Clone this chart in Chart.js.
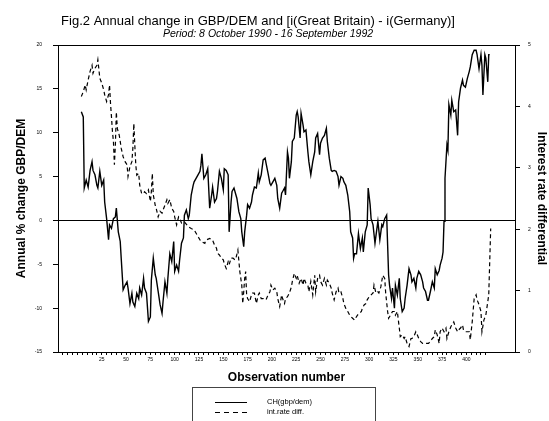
<!DOCTYPE html>
<html>
<head>
<meta charset="utf-8">
<script src="https://cdn.jsdelivr.net/npm/chart.js@4/dist/chart.umd.min.js"></script>
<style>
  html, body { margin: 0; padding: 0; background: #fff; }
  #chart { display: block; }
</style>
</head>
<body>
<canvas id="chart" width="549" height="421"></canvas>
<script>
// titles
const chartTitle = 'Fig.2 Annual change in GBP/DEM and [i(Great Britain) - i(Germany)]';
const chartSubtitle = 'Period: 8 October 1990 - 16 September 1992';

// CH(gbp/dem): observation number / annual % change
const obsCh = [4, 6, 7, 9, 11, 13, 15, 16, 18, 20,
    21, 23, 25, 27, 28, 30, 32, 33, 35, 37,
    39, 40, 42, 44, 45, 47, 49, 51, 52, 54,
    56, 57, 59, 61, 63, 64, 66, 68, 69, 71,
    73, 75, 76, 78, 80, 81, 83, 85, 87, 88,
    90, 92, 93, 95, 97, 99, 100, 102, 104, 105,
    107, 109, 110, 112, 114, 115, 117, 119, 120, 122,
    124, 126, 127, 128, 130, 132, 134, 136, 138, 139,
    141, 143, 144, 146, 148, 150, 151, 153, 155, 156,
    158, 159, 161, 163, 164, 166, 168, 169, 171, 172,
    174, 175, 177, 179, 180, 182, 184, 186, 187, 189,
    191, 193, 194, 196, 198, 199, 201, 203, 205, 206,
    208, 210, 211, 213, 214, 216, 217, 218, 220, 221,
    223, 225, 226, 227, 229, 230, 232, 233, 235, 237,
    238, 240, 242, 244, 245, 247, 249, 250, 252, 254,
    256, 257, 259, 261, 262, 264, 266, 268, 269, 271,
    273, 274, 276, 278, 280, 281, 283, 284, 285, 287,
    289, 291, 293, 294, 296, 298, 299, 301, 302, 304,
    306, 308, 309, 311, 313, 314, 316, 318, 319, 320,
    321, 323, 324, 326, 327, 329, 331, 332, 334, 336,
    337, 339, 341, 343, 344, 346, 348, 349, 351, 353,
    355, 356, 358, 360, 361, 363, 365, 367, 368, 370,
    372, 373, 375, 376, 377, 378, 380, 381, 382, 384,
    385, 387, 389, 391, 392, 394, 396, 397, 399, 401,
    403, 404, 406, 408, 410, 411, 413, 415, 416, 417,
    419, 420, 422, 423, 424];
const valCh = [12.4, 11.8, 3.7, 4.6, 3.8, 5.7, 6.7, 5.7, 5.2, 4.0,
    3.7, 5.6, 4.0, 4.6, 2.1, 0.2, -2.2, -0.5, -0.9, 0.2,
    0.4, 1.4, -1.3, -2.4, -4.3, -7.9, -7.4, -7.0, -7.7, -9.5,
    -8.3, -9.3, -9.8, -8.3, -8.9, -7.7, -8.5, -6.6, -7.7, -8.3,
    -11.5, -11.0, -6.8, -4.3, -6.2, -6.6, -8.1, -9.6, -10.6, -9.3,
    -7.0, -8.3, -6.6, -3.8, -4.7, -2.4, -5.8, -5.1, -5.8, -4.6,
    -2.6, -2.0, 0.6, 1.2, 0.2, 0.6, 2.9, 4.0, 4.4, 4.8,
    5.2, 5.6, 6.3, 7.6, 4.8, 5.2, 5.9, 1.4, 2.9, 3.8,
    2.1, 2.5, 3.3, 5.6, 4.8, 3.5, 5.9, 5.7, 5.2, -1.3,
    2.1, 3.3, 3.7, 2.9, 2.5, 1.0, 0.2, -1.3, -3.0, -1.3,
    0.6, 1.8, 1.4, 2.1, 2.9, 3.8, 3.7, 5.4, 4.4, 5.2,
    6.9, 7.1, 6.5, 5.4, 4.2, 4.0, 4.4, 4.8, 4.0, 2.5,
    1.4, 3.1, 3.3, 3.7, 2.9, 7.8, 7.1, 4.8, 6.7, 9.0,
    9.4, 12.0, 12.4, 11.8, 9.4, 12.2, 10.9, 10.1, 10.3, 7.8,
    6.7, 5.2, 6.7, 7.8, 9.4, 9.9, 7.5, 8.8, 9.4, 9.7,
    10.5, 9.0, 7.1, 5.7, 5.6, 5.7, 5.6, 5.0, 4.0, 5.0,
    4.8, 4.4, 4.0, 2.9, 1.0, -1.3, -2.0, -4.3, -3.8, -3.8,
    -1.5, -3.2, -2.0, -3.6, -1.3, -0.5, 3.7, 1.8, 0.2, -0.5,
    -2.6, -0.9, -0.1, -2.2, -0.5, -0.7, 0.2, 0.6, -2.8, -6.2,
    -7.4, -8.9, -7.7, -10.0, -7.4, -8.5, -6.6, -8.9, -10.4, -10.0,
    -8.9, -7.4, -5.5, -6.2, -7.0, -6.6, -7.7, -6.6, -5.8, -6.2,
    -7.0, -7.7, -8.1, -9.1, -9.1, -8.1, -7.0, -7.7, -5.5, -6.2,
    -5.7, -5.1, -4.3, -3.6, -0.1, 4.8, 8.6, 8.0, 13.2, 12.0,
    13.7, 12.4, 12.6, 9.7, 13.5, 15.1, 16.0, 15.4, 15.2, 16.2,
    17.0, 17.5, 18.9, 19.4, 19.4, 18.9, 17.3, 18.9, 17.7, 14.3,
    18.9, 18.5, 15.8, 18.9, 18.9];

// int.rate diff.: observation number / interest rate differential
const obsIr = [4, 6, 8, 9, 11, 13, 15, 16, 18, 20,
    21, 23, 25, 27, 28, 30, 32, 33, 34, 35,
    36, 37, 38, 39, 40, 41, 43, 44, 45, 47,
    49, 51, 52, 54, 56, 57, 58, 59, 60, 61,
    63, 64, 66, 68, 69, 71, 73, 75, 76, 77,
    78, 80, 81, 83, 85, 87, 88, 90, 92, 93,
    95, 97, 99, 100, 102, 104, 105, 107, 110, 114,
    117, 120, 124, 127, 131, 132, 136, 139, 141, 143,
    144, 146, 148, 150, 151, 153, 155, 156, 158, 160,
    162, 163, 165, 167, 169, 170, 171, 172, 173, 174,
    175, 177, 179, 180, 182, 184, 186, 187, 189, 191,
    193, 194, 196, 198, 199, 201, 203, 205, 206, 208,
    210, 211, 213, 214, 216, 218, 220, 221, 223, 225,
    226, 228, 230, 232, 233, 235, 237, 238, 240, 242,
    244, 245, 247, 249, 250, 252, 254, 256, 257, 259,
    261, 262, 264, 266, 268, 269, 271, 273, 274, 276,
    278, 280, 281, 283, 285, 286, 288, 290, 292, 293,
    295, 297, 298, 300, 302, 304, 305, 307, 309, 310,
    312, 314, 316, 317, 319, 320, 322, 324, 326, 327,
    329, 331, 332, 334, 336, 337, 339, 341, 343, 344,
    346, 348, 349, 351, 353, 355, 356, 358, 360, 361,
    363, 365, 367, 368, 370, 372, 373, 375, 377, 379,
    380, 382, 384, 385, 387, 389, 391, 392, 394, 396,
    397, 399, 401, 403, 404, 406, 408, 410, 411, 413,
    415, 416, 418, 420, 421, 423, 424, 425];
const valIr = [4.16, 4.24, 4.35, 4.27, 4.43, 4.57, 4.67, 4.54, 4.62, 4.67,
    4.76, 4.46, 4.38, 4.27, 4.19, 4.08, 4.19, 4.35, 4.05, 3.83,
    3.59, 3.43, 3.05, 3.37, 3.91, 3.64, 3.53, 3.43, 3.32, 3.18,
    3.10, 3.05, 2.86, 3.02, 3.10, 3.32, 3.72, 3.37, 3.05, 2.88,
    2.91, 2.72, 2.58, 2.58, 2.61, 2.58, 2.64, 2.45, 2.61, 2.91,
    2.56, 2.39, 2.34, 2.20, 2.29, 2.26, 2.31, 2.39, 2.48, 2.42,
    2.48, 2.34, 2.29, 2.20, 2.07, 2.20, 2.18, 2.10, 2.12, 2.04,
    2.01, 1.99, 1.88, 1.80, 1.77, 1.82, 1.85, 1.82, 1.74, 1.69,
    1.61, 1.58, 1.53, 1.50, 1.44, 1.36, 1.47, 1.42, 1.53, 1.53,
    1.50, 1.53, 1.66, 1.31, 1.09, 0.79, 0.98, 1.20, 1.31, 0.93,
    0.87, 0.82, 0.93, 0.96, 0.96, 0.79, 0.93, 0.96, 0.87, 0.87,
    0.85, 0.85, 0.93, 0.98, 1.09, 1.01, 1.04, 0.98, 0.87, 0.74,
    0.93, 0.87, 0.79, 0.87, 0.90, 0.96, 1.06, 1.15, 1.28, 1.20,
    1.25, 1.12, 1.20, 1.09, 1.20, 1.12, 1.09, 0.98, 1.15, 0.93,
    1.25, 0.98, 1.20, 1.25, 1.15, 1.09, 1.20, 1.09, 1.17, 1.12,
    1.04, 0.96, 0.85, 0.98, 1.04, 0.96, 0.98, 0.87, 0.79, 0.71,
    0.66, 0.60, 0.58, 0.55, 0.52, 0.55, 0.60, 0.63, 0.66, 0.71,
    0.77, 0.79, 0.85, 0.90, 0.93, 0.96, 1.09, 0.96, 0.98, 0.96,
    1.06, 1.25, 1.20, 0.96, 0.66, 0.55, 0.60, 0.66, 0.66, 0.60,
    0.66, 0.39, 0.25, 0.28, 0.22, 0.25, 0.14, 0.09, 0.22, 0.22,
    0.25, 0.33, 0.30, 0.22, 0.17, 0.14, 0.14, 0.14, 0.14, 0.14,
    0.17, 0.22, 0.25, 0.36, 0.28, 0.14, 0.33, 0.39, 0.33, 0.39,
    0.22, 0.33, 0.41, 0.44, 0.49, 0.39, 0.33, 0.36, 0.39, 0.44,
    0.36, 0.33, 0.33, 0.33, 0.20, 0.49, 0.87, 0.93, 0.85, 0.77,
    0.66, 0.33, 0.52, 0.60, 0.71, 0.93, 1.47, 2.01];

// axis ranges / labelled ticks
const xMin = -20, xMax = 450;
const xLabelFirst = 25, xLabelLast = 400, xLabelStep = 25;
const leftMin = -15, leftMax = 20, leftStep = 5;
const rightMin = 0, rightMax = 5, rightStep = 1;

const FONT = '"Liberation Sans", Arial, Helvetica, sans-serif';

// 标题、图框上边、图例
const decorPlugin = {
    id: 'decor',
    afterDraw: function(chart) {
        const ctx = chart.ctx;
        const a = chart.chartArea;
        ctx.save();

        // top edge of the frame
        ctx.strokeStyle = '#000';
        ctx.lineWidth = 1;
        ctx.beginPath();
        ctx.moveTo(a.left, Math.round(a.top) + 0.5);
        ctx.lineTo(a.right, Math.round(a.top) + 0.5);
        ctx.stroke();

        // title + subtitle
        ctx.fillStyle = '#000';
        ctx.textAlign = 'center';
        ctx.textBaseline = 'middle';
        ctx.font = '13px ' + FONT;
        ctx.fillText(chartTitle, 258, 21);
        ctx.font = 'italic 10.5px ' + FONT;
        ctx.fillText(chartSubtitle, 268, 34);

        // legend box
        ctx.strokeStyle = '#444';
        ctx.strokeRect(192.5, 387.5, 183, 40);
        ctx.textAlign = 'left';
        ctx.font = '7.5px ' + FONT;
        chart.data.datasets.forEach(function(ds, i) {
            const y = 402.5 + i * 10;
            ctx.strokeStyle = '#000';
            ctx.lineWidth = 1;
            ctx.setLineDash(ds.borderDash && ds.borderDash.length ? [5, 4] : []);
            ctx.beginPath();
            ctx.moveTo(215, y);
            ctx.lineTo(247, y);
            ctx.stroke();
            ctx.setLineDash([]);
            ctx.fillText(ds.label, 267, y - 1);
        });
        ctx.restore();
    }
};

const chart = new Chart(document.getElementById('chart').getContext('2d'), {
    type: 'line',
    data: {
        datasets: [
            {
                label: 'CH(gbp/dem)',
                data: obsCh.map((x, i) => ({ x: x, y: valCh[i] })),
                yAxisID: 'y',
                borderColor: '#000',
                borderWidth: 1.4,
                pointRadius: 0,
                tension: 0
            },
            {
                label: 'int.rate diff.',
                data: obsIr.map((x, i) => ({ x: x, y: valIr[i] })),
                yAxisID: 'y1',
                borderColor: '#000',
                borderWidth: 1.2,
                borderDash: [4, 3],
                pointRadius: 0,
                tension: 0
            }
        ]
    },
    options: {
        responsive: false,
        animation: false,
        devicePixelRatio: 1,
        layout: { padding: { top: 45, left: 0, right: 0, bottom: 0 } },
        plugins: {
            legend: { display: false },
            title: { display: false },
            tooltip: { enabled: false }
        },
        scales: {
            x: {
                type: 'linear',
                min: xMin,
                max: xMax,
                afterFit: function(scale) { scale.height = 69; },
                ticks: {
                    stepSize: 5,
                    autoSkip: false,
                    maxRotation: 0,
                    padding: 2,
                    color: '#000',
                    font: { family: FONT, size: 5 },
                    callback: function(v) {
                        return (v % xLabelStep === 0 && v >= xLabelFirst && v <= xLabelLast) ? String(v) : '';
                    }
                },
                grid: {
                    drawOnChartArea: false,
                    tickLength: 3,
                    tickColor: function(c) {
                        return (c.tick && c.tick.value >= -15 && c.tick.value <= 420) ? '#000' : 'rgba(0,0,0,0)';
                    }
                },
                border: { display: true, color: '#000', width: 1 },
                title: {
                    display: true,
                    text: 'Observation number',
                    color: '#000',
                    font: { family: FONT, size: 12, weight: 'bold' },
                    padding: { top: 4, bottom: 36 }
                }
            },
            y: {
                position: 'left',
                min: leftMin,
                max: leftMax,
                afterFit: function(scale) { scale.width = 58; },
                ticks: {
                    stepSize: leftStep,
                    padding: 11,
                    color: '#000',
                    font: { family: FONT, size: 5 }
                },
                grid: {
                    drawOnChartArea: true,
                    tickLength: 5,
                    tickColor: '#000',
                    color: function(c) {
                        return (c.tick && c.tick.value === 0) ? '#000' : 'rgba(0,0,0,0)';
                    }
                },
                border: { display: true, color: '#000', width: 1 },
                title: {
                    display: true,
                    text: 'Annual % change GBP/DEM',
                    color: '#000',
                    font: { family: FONT, size: 12, weight: 'bold' },
                    padding: { top: 14, bottom: 0 }
                }
            },
            y1: {
                position: 'right',
                min: rightMin,
                max: rightMax,
                afterFit: function(scale) { scale.width = 34; },
                ticks: {
                    stepSize: rightStep,
                    padding: 8,
                    color: '#000',
                    font: { family: FONT, size: 5 }
                },
                grid: {
                    drawOnChartArea: false,
                    tickLength: 5,
                    tickColor: '#000'
                },
                border: { display: true, color: '#000', width: 1 },
                title: {
                    display: true,
                    text: 'Interest rate differential',
                    color: '#000',
                    font: { family: FONT, size: 12, weight: 'bold' },
                    padding: { top: 0, bottom: 0 }
                }
            }
        }
    },
    plugins: [decorPlugin]
});
</script>
</body>
</html>
